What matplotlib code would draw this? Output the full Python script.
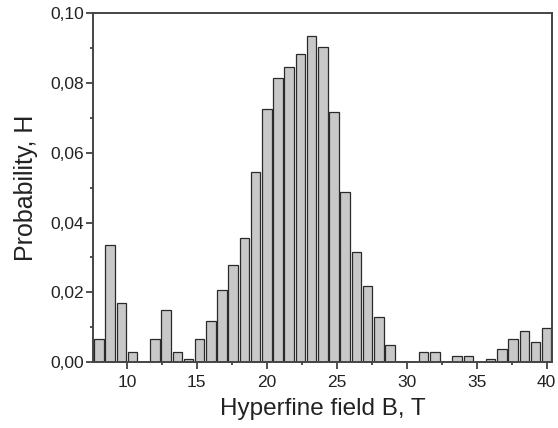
import matplotlib
matplotlib.use("Agg")
import matplotlib.pyplot as plt
from matplotlib.ticker import MultipleLocator, FuncFormatter

plt.rcParams["font.family"] = ["Liberation Sans", "DejaVu Sans"]

# Hyperfine field bins (T) and probabilities
field = [8.0, 8.8, 9.6, 10.4, 11.2, 12.0, 12.8, 13.6, 14.4, 15.2,
         16.0, 16.8, 17.6, 18.4, 19.2, 20.0, 20.8, 21.6, 22.4, 23.2,
         24.0, 24.8, 25.6, 26.4, 27.2, 28.0, 28.8, 29.6, 30.4, 31.2,
         32.0, 32.8, 33.6, 34.4, 35.2, 36.0, 36.8, 37.6, 38.4, 39.2, 40.0]
prob = [0.0067, 0.0337, 0.0168, 0.0028, 0.0, 0.0067, 0.0148, 0.0028, 0.0008, 0.0067,
        0.0118, 0.0207, 0.0277, 0.0357, 0.0546, 0.0726, 0.0815, 0.0846, 0.0885, 0.0935,
        0.0904, 0.0716, 0.0488, 0.0317, 0.0217, 0.0128, 0.0048, 0.0, 0.0, 0.0028,
        0.0028, 0.0, 0.0018, 0.0018, 0.0, 0.0008, 0.0038, 0.0067, 0.0088, 0.0058, 0.0098]

fig = plt.figure(figsize=(5.58, 4.28), dpi=100)
ax = fig.add_axes([0.1672, 0.1542, 0.8226, 0.8143])

ax.bar(field, prob, width=0.68, color="#c8c8c8", edgecolor="#2a2a2a", linewidth=0.9)

ax.set_xlim(7.6, 40.4)
ax.set_ylim(0, 0.10)
ax.xaxis.set_major_locator(MultipleLocator(5))
ax.xaxis.set_minor_locator(MultipleLocator(2.5))
ax.yaxis.set_major_locator(MultipleLocator(0.02))
ax.yaxis.set_minor_locator(MultipleLocator(0.01))
ax.yaxis.set_major_formatter(FuncFormatter(lambda v, p: f"{v:.2f}".replace(".", ",")))

ax.tick_params(which="both", direction="out", color="#333333", width=1.2,
               labelsize=12.5, labelcolor="#222222")
ax.tick_params(which="major", length=5)
ax.tick_params(which="minor", length=2.5)
ax.tick_params(axis="x", which="major", pad=4)
ax.tick_params(axis="y", which="major", pad=1.5)
for s in ax.spines.values():
    s.set_color("#444444")
    s.set_linewidth(1.4)

ax.set_xlabel("Hyperfine field B, T", fontsize=17.5, color="#222222", labelpad=6)
ax.set_ylabel("Probability, H", fontsize=18, color="#222222", labelpad=9)

fig.savefig("out.png", dpi=100)
